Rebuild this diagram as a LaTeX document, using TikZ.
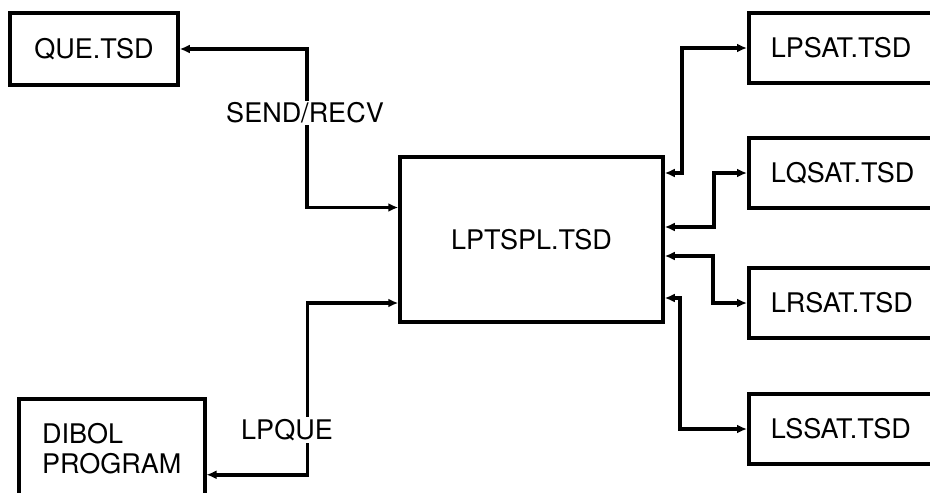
\documentclass[tikz,border=0pt]{standalone}
\usepackage{fontspec}
\setmainfont{TeX Gyre Heros}
\usetikzlibrary{arrows.meta,positioning}

\begin{document}
\begin{tikzpicture}[x=1pt,y=-1pt,>={Latex[length=10pt,width=9pt]},font=\fontsize{27}{30}\selectfont]
  \tikzstyle{block}=[draw,line width=3.5pt,align=center,inner sep=0pt]
  \tikzstyle{sat}=[block,anchor=west,minimum height=70pt,text width=216pt,inner xsep=22pt,align=left]
  \tikzstyle{link}=[<->,line width=3.5pt]
  \tikzstyle{lbl}=[fill=white,inner sep=2pt]
  \useasboundingbox (0,0) rectangle (930,493);
  \clip (0,0) rectangle (930,493);
  \node[block,minimum width=168pt,minimum height=72pt] (que) at (94,49) {QUE.TSD};
  \node[block,minimum width=263pt,minimum height=165pt] (spl) at (531.5,239.5) {LPTSPL.TSD};
  \node[block,anchor=north west,minimum width=186pt,minimum height=100pt,align=left] (dibol) at (17,397) {DIBOL\\PROGRAM};
  \node[sat] (lpsat) at (747,48) {LPSAT.TSD};
  \node[sat] (lqsat) at (747,173) {LQSAT.TSD};
  \node[sat] (lrsat) at (747,303) {LRSAT.TSD};
  \node[sat] (lssat) at (747,429) {LSSAT.TSD};
  \draw[link] (que.east) -- ++(127,0) |- ([yshift=32pt]spl.west);
  \draw[link] ([yshift=-26pt]dibol.east) -- ++(101,0) |- ([yshift=-63.5pt]spl.west);
  \draw[link] ([yshift=66.5pt]spl.east) -- ++(17,0) |- (lpsat.west);
  \draw[link] ([yshift=12.5pt]spl.east) -- ++(49,0) |- (lqsat.west);
  \draw[link] ([yshift=-16.5pt]spl.east) -- ++(48,0) |- (lrsat.west);
  \draw[link] ([yshift=-58.5pt]spl.east) -- ++(15,0) |- (lssat.west);
  \node[lbl] (sendrecv) at (305,113) {SEND/RECV};
  \node[lbl] (lpque) at (287,430) {LPQUE};
\end{tikzpicture}
\end{document}
